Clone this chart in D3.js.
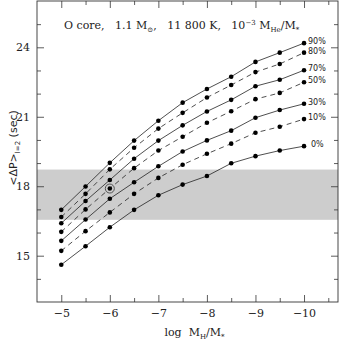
<!DOCTYPE html>
<html>
<head>
<meta charset="utf-8">
<script src="https://cdn.jsdelivr.net/npm/d3@7"></script>
<style>
  body { margin: 0; background: #fff; }
  .axis path { display: none; }
  .axis line { stroke: #333; stroke-width: 0.8; }
  .axis text { font-family: "DejaVu Serif", serif; font-size: 11px; fill: #222; }
</style>
</head>
<body>
<script>
// x positions (log MH/M*) and the seven He-core-fraction curves
var logMH = [-5, -5.5, -6, -6.5, -7, -7.5, -8, -8.5, -9, -9.5, -10];
var p90 = [16.98, 17.99, 19.01, 19.97, 20.83, 21.61, 22.20, 22.73, 23.37, 23.77, 24.18];
var p80 = [16.67, 17.67, 18.73, 19.66, 20.49, 21.17, 21.83, 22.37, 22.93, 23.28, 23.77];
var p70 = [16.40, 17.36, 18.27, 19.19, 19.97, 20.63, 21.23, 21.73, 22.32, 22.60, 23.01];
var p50 = [16.03, 17.00, 17.90, 18.78, 19.54, 20.14, 20.74, 21.24, 21.76, 22.03, 22.49];
var p30 = [15.64, 16.56, 17.46, 18.17, 18.86, 19.50, 19.98, 20.40, 20.96, 21.29, 21.56];
var p10 = [15.21, 16.06, 16.87, 17.67, 18.36, 18.93, 19.40, 19.84, 20.31, 20.57, 20.90];
var p0  = [14.61, 15.41, 16.23, 16.98, 17.61, 18.07, 18.44, 18.99, 19.30, 19.54, 19.73];
var seriesLabels = ["90%", "80%", "70%", "50%", "30%", "10%", "0%"];
var seriesDashed = [false, true, false, true, false, true, false];
var seriesValues = [p90, p80, p70, p50, p30, p10, p0];

// observed band and the marked model
var band = [16.55, 18.72];
var marked = { x: -6, y: 17.90 };

var xMajor = [-5, -6, -7, -8, -9, -10];
var xMinor = [-5.5, -6.5, -7.5, -8.5, -9.5, -10.5];
var yMajor = [15, 18, 21, 24];
var yMinor = d3.range(14, 26, 1);

var svgWidth = 340, svgHeight = 340;
var margin = { top: 1, right: 2, bottom: 38, left: 37 };
var chartWidth = svgWidth - margin.left - margin.right;
var chartHeight = svgHeight - margin.top - margin.bottom;

var svg = d3.select("body").append("svg")
  .attr("width", svgWidth)
  .attr("height", svgHeight);

var chartGroup = svg.append("g")
  .attr("transform", `translate(${margin.left}, ${margin.top})`);

var x = d3.scaleLinear().domain([-4.5, -10.7]).range([0, chartWidth]);
var y = d3.scaleLinear().domain([13, 26]).range([chartHeight, 0]);

// gray band
chartGroup.append("rect")
  .attr("x", 0)
  .attr("width", chartWidth)
  .attr("y", y(band[1]))
  .attr("height", y(band[0]) - y(band[1]))
  .attr("fill", "#cdcdcd");

// axes with inward ticks on all sides
function fmt(d) { return d < 0 ? "\u2212" + Math.abs(d) : d; }

chartGroup.append("g").attr("class", "axis")
  .attr("transform", `translate(0, ${chartHeight})`)
  .call(d3.axisBottom(x).tickValues(xMajor).tickSizeInner(-7).tickPadding(7).tickFormat(fmt));
chartGroup.append("g").attr("class", "axis")
  .attr("transform", `translate(0, ${chartHeight})`)
  .call(d3.axisBottom(x).tickValues(xMinor).tickSizeInner(-4).tickFormat(""));
chartGroup.append("g").attr("class", "axis")
  .call(d3.axisTop(x).tickValues(xMajor).tickSizeInner(-7).tickFormat(""));
chartGroup.append("g").attr("class", "axis")
  .call(d3.axisTop(x).tickValues(xMinor).tickSizeInner(-4).tickFormat(""));

chartGroup.append("g").attr("class", "axis")
  .call(d3.axisLeft(y).tickValues(yMajor).tickSizeInner(-7).tickPadding(7));
chartGroup.append("g").attr("class", "axis")
  .call(d3.axisLeft(y).tickValues(yMinor.filter(d => yMajor.indexOf(d) < 0)).tickSizeInner(-4).tickFormat(""));
chartGroup.append("g").attr("class", "axis")
  .attr("transform", `translate(${chartWidth}, 0)`)
  .call(d3.axisRight(y).tickValues(yMajor).tickSizeInner(-7).tickFormat(""));
chartGroup.append("g").attr("class", "axis")
  .attr("transform", `translate(${chartWidth}, 0)`)
  .call(d3.axisRight(y).tickValues(yMinor.filter(d => yMajor.indexOf(d) < 0)).tickSizeInner(-4).tickFormat(""));

// frame
chartGroup.append("rect")
  .attr("width", chartWidth)
  .attr("height", chartHeight)
  .attr("fill", "none")
  .attr("stroke", "#333")
  .attr("stroke-width", 0.9);

// curves
var drawLine = d3.line()
  .x((d, i) => x(logMH[i]))
  .y(d => y(d));

seriesValues.forEach(function(vals, k) {
  chartGroup.append("path")
    .attr("d", drawLine(vals))
    .attr("fill", "none")
    .attr("stroke", "#222")
    .attr("stroke-width", 0.8)
    .attr("stroke-dasharray", seriesDashed[k] ? "5,4" : null);

  chartGroup.selectAll(null)
    .data(vals)
    .enter().append("circle")
    .attr("cx", (d, i) => x(logMH[i]))
    .attr("cy", d => y(d))
    .attr("r", 2.3)
    .attr("fill", "#000");

  var last = vals.length - 1;
  chartGroup.append("text")
    .attr("x", x(logMH[last]) + (seriesLabels[k] === "0%" ? 7 : 4))
    .attr("y", y(vals[last]) + 1)
    .style("font-family", "'DejaVu Sans', sans-serif")
    .style("font-size", "8px")
    .attr("fill", "#222")
    .text(seriesLabels[k]);
});

// circled model
chartGroup.append("circle")
  .attr("cx", x(marked.x))
  .attr("cy", y(marked.y))
  .attr("r", 4.5)
  .attr("fill", "none")
  .attr("stroke", "#444")
  .attr("stroke-width", 0.9);

// title
var title = chartGroup.append("text")
  .attr("x", 27)
  .attr("y", 28)
  .style("font-family", "'DejaVu Serif', serif")
  .style("font-size", "11px")
  .attr("fill", "#222")
  .attr("xml:space", "preserve");
title.append("tspan").text("O core,   1.1 M");
title.append("tspan").attr("dy", 3).style("font-size", "7px").text("\u2299");
title.append("tspan").attr("dy", -3).text(",   11 800 K,   10");
title.append("tspan").attr("dy", -4).style("font-size", "7px").text("\u22123");
title.append("tspan").attr("dy", 4).text(" M");
title.append("tspan").attr("dy", 3).style("font-size", "7px").text("He");
title.append("tspan").attr("dy", -3).text("/M");
title.append("tspan").attr("dy", 3).style("font-size", "7px").text("*");

// x label
var xl = svg.append("text")
  .attr("x", margin.left + chartWidth / 2 + 7)
  .attr("y", 336)
  .attr("text-anchor", "middle")
  .style("font-family", "'DejaVu Serif', serif")
  .style("font-size", "11px")
  .attr("fill", "#222")
  .attr("xml:space", "preserve");
xl.append("tspan").text("log  M");
xl.append("tspan").attr("dy", 3).style("font-size", "7px").text("H");
xl.append("tspan").attr("dy", -3).text("/M");
xl.append("tspan").attr("dy", 3).style("font-size", "7px").text("*");

// y label
var yl = svg.append("text")
  .attr("transform", "translate(17, 148) rotate(-90)")
  .attr("text-anchor", "middle")
  .style("font-family", "'DejaVu Sans', sans-serif")
  .style("font-size", "11px")
  .attr("fill", "#222")
  .attr("xml:space", "preserve");
yl.append("tspan").text("<\u0394P>");
yl.append("tspan").attr("dy", 3).style("font-size", "7px").text("l=2");
yl.append("tspan").attr("dy", -3).text(" (sec)");
</script>
</body>
</html>
